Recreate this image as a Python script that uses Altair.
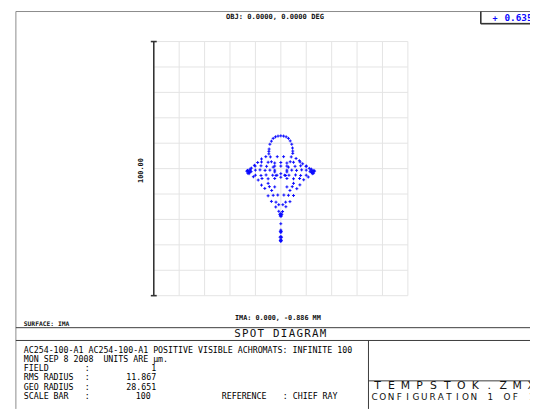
import altair as alt
import pandas as pd

# ---------------- spot data (µm, relative to chief ray) ----------------
arc_x = [-4.7, -4.7, -4.6, -4.3, -3.7, -3.0, -2.1, -1.1, 0.0, 1.1, 2.1, 3.0, 3.7, 4.3, 4.6, 4.7, 4.7]
arc_y = [5.8, 6.8, 7.7, 9.6, 10.8, 11.9, 12.5, 12.8, 12.9, 12.8, 12.5, 11.9, 10.9, 9.6, 8.1, 6.9, 6.0]

upper_x = [-4.1, -1.4, 1.1, 4.1, -5.9, -7.6, -9.1, -10.4, -11.6, 6.0, 7.3, 8.6, 9.9, 11.2]
upper_y = [4.6, 4.7, 4.7, 4.6, 4.7, 3.8, 2.4, 1.3, 0.2, 4.0, 3.1, 1.9, 0.9, 0.1]

tip_x = [-13.4, -13.1, -12.8, -12.6, -12.3, -12.0, -11.7, -13.0, -12.5, -12.1,
         13.3, 13.0, 12.7, 12.4, 12.1, 11.8, 11.5, 12.9, 12.4, 12.0]
tip_y = [-1.0, -0.7, -1.3, -0.9, -1.5, -0.6, -1.2, -1.8, -2.0, -0.2,
         -1.0, -0.7, -1.3, -0.9, -1.5, -0.6, -1.2, -1.8, -2.0, -0.2]

lower_x = [-10.8, -8.9, -7.6, -6.3, -5.0, -3.7, -2.0, -0.8, 10.8, 9.0, 7.5, 6.3, 5.0, 3.6, 2.0, 0.7]
lower_y = [-3.2, -4.5, -6.5, -7.8, -10.7, -12.9, -15.1, -16.8, -3.3, -4.4, -6.4, -7.9, -10.6, -13.0, -15.0, -16.9]

inner_x = [-7.6, -5.0, -3.7, 3.7, 5.0, 7.6,
           -10.1, -7.8, -5.6, -2.4, 0.0, 2.4, 5.6, 7.8, 10.1,
           -10.0, -8.2, -6.2, -4.3, -2.4, 2.4, 4.3, 6.2, 8.2, 10.0,
           -10.0, -7.8, -5.8, -3.2, -1.9, 1.9, 3.2, 5.8, 7.8, 10.0,
           -7.4, -5.0, -2.4, 2.4, 5.0, 7.4,
           -5.0, 5.0,
           -4.5, -2.4, 2.4, 4.5,
           -3.6, 3.6,
           -3.0, -1.2, 1.2, 3.0,
           -1.9, 1.9,
           -0.8, 0.8]
inner_y = [2.6, 2.5, 2.7, 2.7, 2.5, 2.6,
           1.0, 1.1, 0.9, 1.0, 1.0, 1.0, 0.9, 1.1, 1.0,
           -0.6, -0.5, -0.7, -0.6, -0.6, -0.6, -0.6, -0.7, -0.5, -0.6,
           -2.6, -2.7, -2.5, -2.6, -2.7, -2.7, -2.6, -2.5, -2.7, -2.6,
           -3.9, -4.0, -3.9, -3.9, -4.0, -3.9,
           -5.8, -5.8,
           -7.1, -7.2, -7.2, -7.1,
           -8.6, -8.6,
           -10.5, -10.4, -10.4, -10.5,
           -13.2, -13.2,
           -14.2, -14.2]

loop_x = [-2.4, -3.0, -2.4, -1.5, 2.4, 3.0, 2.4, 1.5, 0.0, 0.0, 0.0]
loop_y = [2.2, 0.6, -1.3, -2.6, 2.2, 0.6, -1.3, -2.6, 2.4, -2.0, -3.4]

apex_x = [0.0, -0.4, 0.4, 0.0, -0.2, 0.2]
apex_y = [-17.6, -18.0, -18.0, -18.4, -18.7, -18.7]

tail_x = [0.0, 0.0, -0.2, 0.2, 0.0, 0.0, -0.3, 0.3, 0.0, -0.2, 0.2, 0.0]
tail_y = [-21.7, -24.2, -24.7, -24.7, -25.2, -26.7, -27.0, -27.0, -27.8, -28.3, -28.3, -28.7]

grid_vals = [-50, -40, -30, -20, -10, 0, 10, 20, 30, 40, 50]

# ---------------- texts ----------------
NB = "\u00a0"
obj_label = "OBJ: 0.0000, 0.0000 DEG"
wave_label = "0.635"
scale_label = "100.00"
ima_label = "IMA: 0.000, -0.886 MM"
surface_label = "SURFACE: IMA"
title_label = "SPOT DIAGRAM"
info_line1 = "AC254-100-A1 AC254-100-A1 POSITIVE VISIBLE ACHROMATS: INFINITE 100"
info_line2 = "MON SEP 8 2008" + NB + NB + "UNITS ARE µm."
field_names = ["FIELD", "RMS RADIUS", "GEO RADIUS", "SCALE BAR"]
field_values = ["1", "11.867", "28.651", "100"]
reference_label = "REFERENCE"
reference_value = ":" + NB + "CHIEF RAY"
file_label = "TEMPSTOK.ZMX"
config_label = "CONFIGURATION 1 OF 1"

# ---------------- layout ----------------
W = H = 258
PAD_L, PAD_T, PAD_R, PAD_B = 148, 31, 124, 112
OX, OY = 8 + PAD_L, 8 + PAD_T
MONO = "DejaVu Sans Mono"
BLUE = "#0a0aff"


def seg_df(segs):
    return pd.DataFrame([{"x": a - OX, "y": b - OY, "x2": c - OX, "y2": d - OY} for a, b, c, d in segs])


def seg_layer(segs, color, width):
    return alt.Chart(seg_df(segs)).mark_rule(color=color, strokeWidth=width).encode(
        x=alt.X("x:Q", scale=None, axis=None), y=alt.Y("y:Q", scale=None, axis=None),
        x2="x2:Q", y2="y2:Q")


def text_layer(rows, **kw):
    df = pd.DataFrame([{"x": a - OX, "y": b - OY, "t": t} for a, b, t in rows])
    return alt.Chart(df).mark_text(baseline="middle", **kw).encode(
        x=alt.X("x:Q", scale=None, axis=None), y=alt.Y("y:Q", scale=None, axis=None), text="t:N")


def spread(s, left, pitch, y):
    return [(left + pitch * (i + 0.5), y, ch) for i, ch in enumerate(s) if ch != " "]


spot_df = pd.DataFrame({
    "x": arc_x + upper_x + tip_x + lower_x + inner_x + loop_x + apex_x + tail_x,
    "y": arc_y + upper_y + tip_y + lower_y + inner_y + loop_y + apex_y + tail_y,
})
grid_df = pd.DataFrame({"g": grid_vals})

xs = alt.Scale(domain=[-50, 50], nice=False, zero=False)
ys = alt.Scale(domain=[-50, 50], nice=False, zero=False)

vgrid = alt.Chart(grid_df).mark_rule(color="#e4e4e4", strokeWidth=1).encode(
    x=alt.X("g:Q", scale=xs, axis=None))
hgrid = alt.Chart(grid_df).mark_rule(color="#e4e4e4", strokeWidth=1).encode(
    y=alt.Y("g:Q", scale=ys, axis=None))

spots = alt.Chart(spot_df).mark_point(
    shape="M-1,0L1,0M0,-1L0,1", filled=False, color=BLUE, size=9, strokeWidth=1, opacity=1
).encode(x=alt.X("x:Q", scale=xs, axis=None), y=alt.Y("y:Q", scale=ys, axis=None))

frame_gray = seg_layer([(16, 8.5, 540, 8.5), (16, 8.5, 16, 412)], "#8a8a8a", 1)
frame_dark = seg_layer([(16, 329.5, 540, 329.5), (16, 342.5, 540, 342.5),
                        (374, 342.5, 374, 412), (374, 383.5, 540, 383.5)], "#3a3a3a", 1)
axis_line = seg_layer([(156, 39, 156, 297), (153, 39, 159, 39), (153, 297, 159, 297)], "#333333", 1.6)

box_df = pd.DataFrame([{"x": 488 - OX, "y": 8.5 - OY, "x2": 545 - OX, "y2": 20.5 - OY}])
box = alt.Chart(box_df).mark_rect(fill="white", stroke="#666666", strokeWidth=1).encode(
    x=alt.X("x:Q", scale=None, axis=None), y=alt.Y("y:Q", scale=None, axis=None), x2="x2:Q", y2="y2:Q")
box_shadow = seg_layer([(488, 8.5, 488, 21), (488, 21, 540, 21)], "#333333", 1.5)

t_obj = text_layer([(279, 14, obj_label)], font=MONO, fontSize=7.2, fontWeight="bold", align="center", color="#111")
t_plus = text_layer([(500, 15, "+")], font=MONO, fontSize=8.5, fontWeight="bold", align="left", color=BLUE)
t_wave = text_layer([(512, 15, wave_label)], font=MONO, fontSize=9.5, fontWeight="bold", align="left", color=BLUE)
t_scale = text_layer([(143, 170, scale_label)], font=MONO, fontSize=7, fontWeight="bold", align="center",
                     angle=270, color="#111")
t_ima = text_layer([(282, 320, ima_label)], font=MONO, fontSize=6.9, fontWeight="bold", align="center", color="#111")
t_surf = text_layer([(24, 325.5, surface_label)], font=MONO, fontSize=6.4, fontWeight="bold", align="left",
                    color="#111")
t_title = text_layer(spread(title_label, 237, 7.9, 336), font=MONO, fontSize=11, align="center", color="#111")

row_y = [370.5, 380, 389.5, 399]
left_rows = [(24, 352, info_line1), (24, 361.5, info_line2)]
left_rows += [(24, row_y[i], field_names[i]) for i in range(4)]
left_rows += [(86, row_y[i], ":") for i in range(4)]
left_rows += [(225, row_y[3], reference_label), (287, row_y[3], reference_value)]
t_info = text_layer(left_rows, font=MONO, fontSize=8.4, align="left", color="#000")
val_rows = [(158.5, row_y[0], field_values[0]), (158.5, row_y[1], field_values[1]),
            (158.5, row_y[2], field_values[2]), (153, row_y[3], field_values[3])]
t_vals = text_layer(val_rows, font=MONO, fontSize=8.4, align="right", color="#000")

t_file = text_layer(spread(file_label, 376, 14.2, 389), font="DejaVu Sans", fontSize=11, align="center",
                    color="#111")
t_conf = text_layer(spread(config_label, 376, 8.4, 400), font="DejaVu Sans", fontSize=9, align="center",
                    color="#111")

chart = alt.layer(
    vgrid, hgrid, frame_gray, frame_dark, axis_line, box, box_shadow, spots,
    t_obj, t_plus, t_wave, t_scale, t_ima, t_surf, t_title, t_info, t_vals, t_file, t_conf
).properties(
    width=W, height=H,
    autosize=alt.AutoSizeParams(type="none"),
    padding={"left": PAD_L, "top": PAD_T, "right": PAD_R, "bottom": PAD_B},
    background="white",
).configure_view(stroke=None)

chart.save("out.html", embed_options={"renderer": "svg", "actions": False})
